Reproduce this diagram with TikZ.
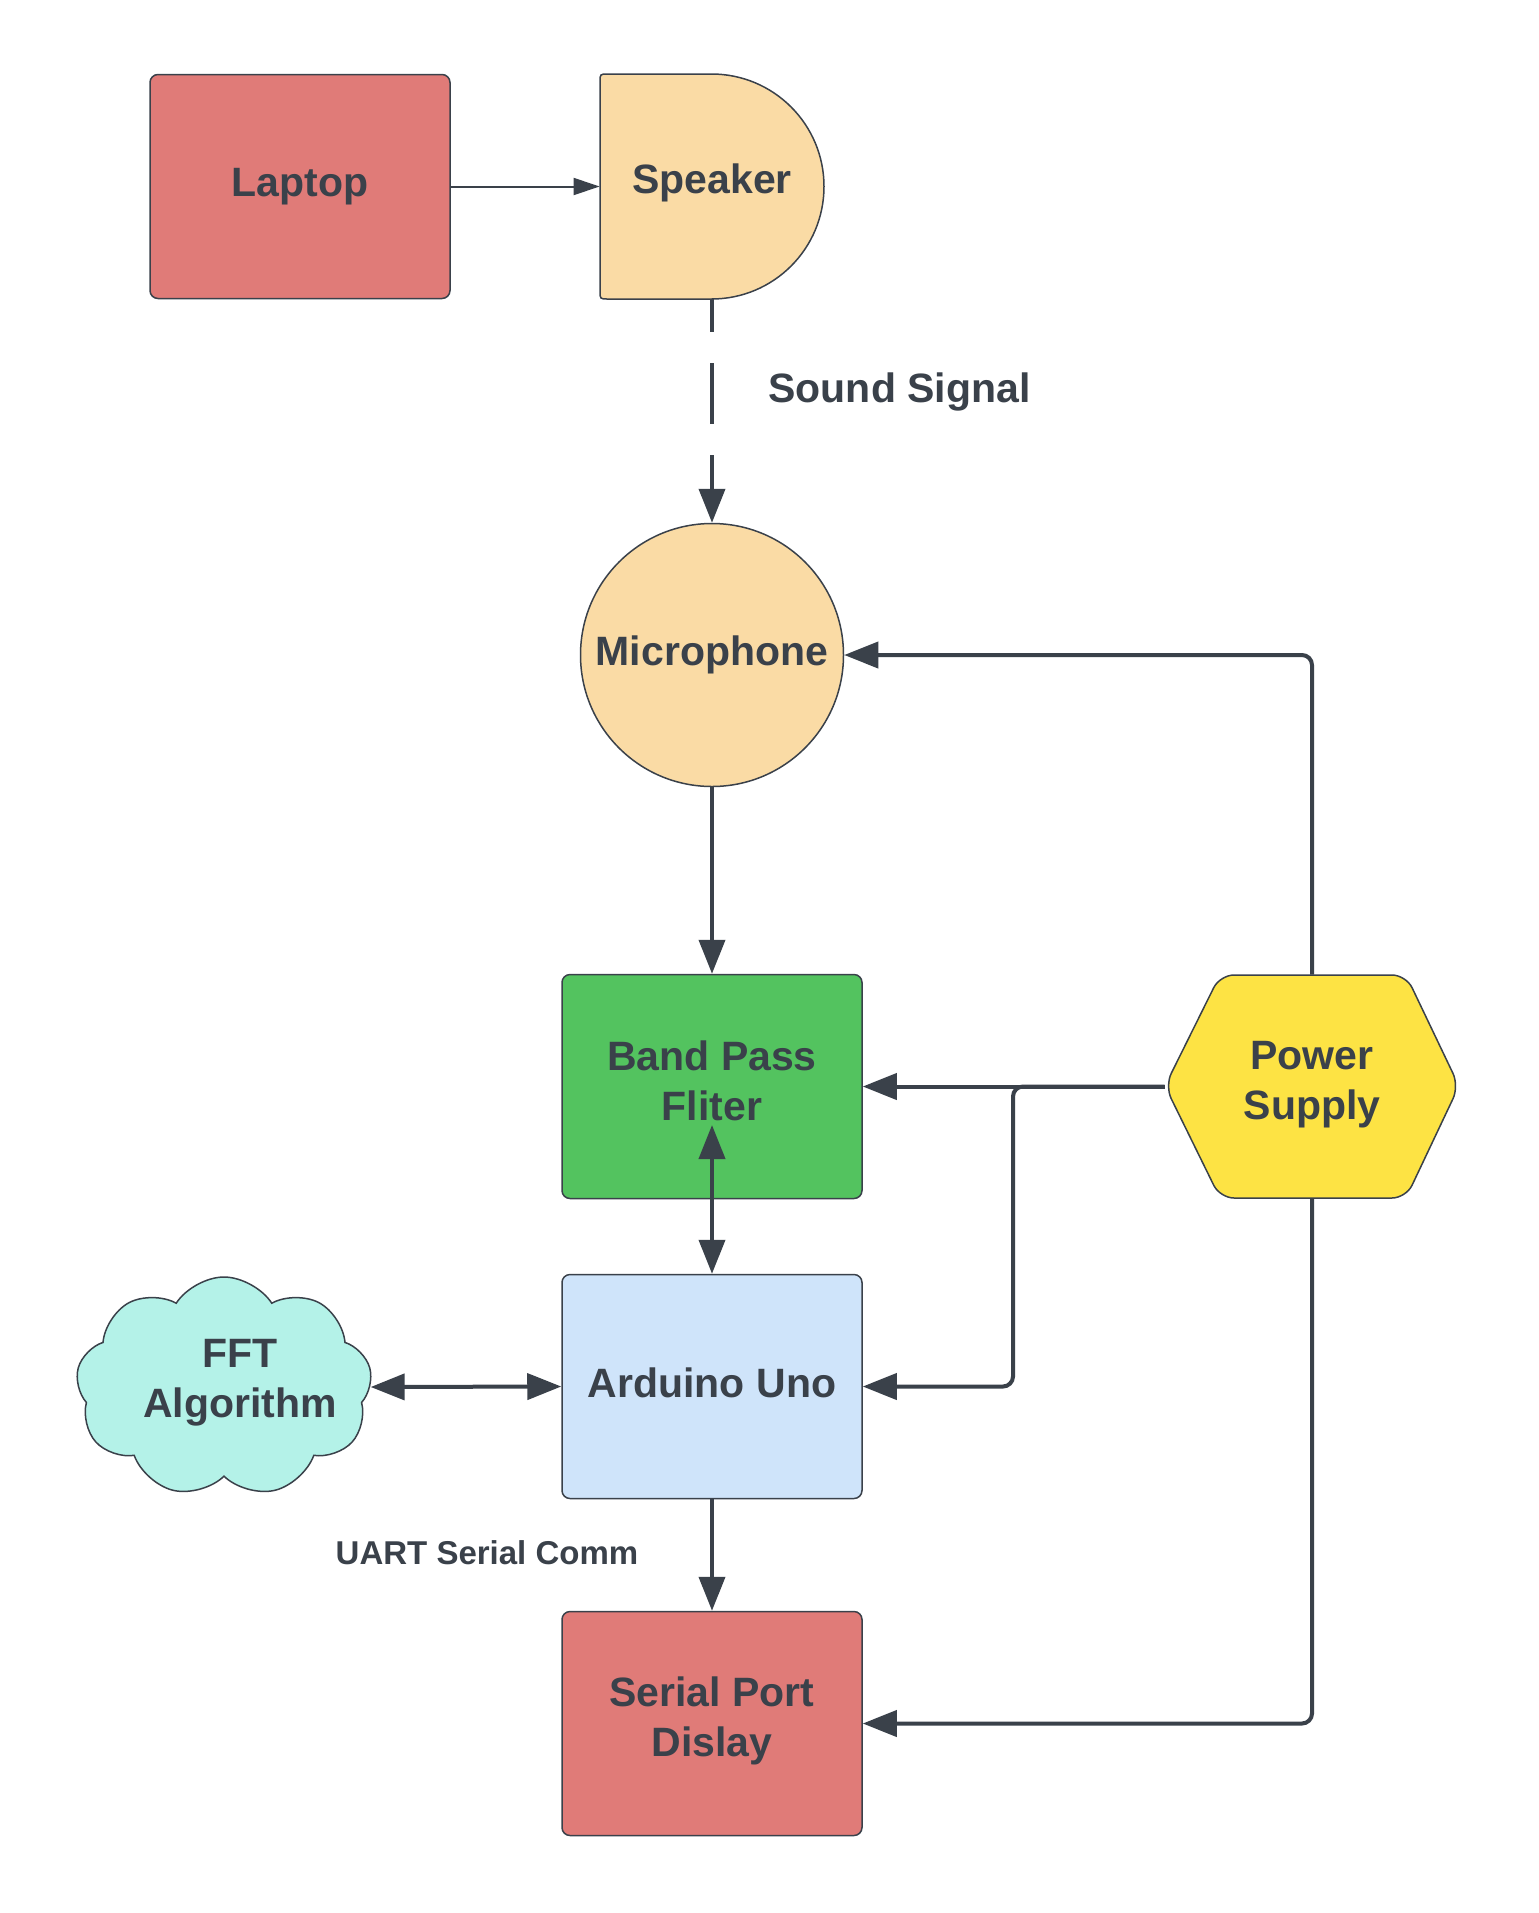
\documentclass[tikz,border=0pt]{standalone}
\usepackage{fontspec}
\setmainfont{Liberation Sans}
\usetikzlibrary{arrows.meta,shapes.symbols,shapes.geometric}
\definecolor{edge}{HTML}{3A414A}
\definecolor{txt}{HTML}{3A414A}
\definecolor{cred}{HTML}{E07B78}
\definecolor{corange}{HTML}{FADBA5}
\definecolor{cgreen}{HTML}{53C35F}
\definecolor{cblue}{HTML}{CFE4FA}
\definecolor{cyellow}{HTML}{FDE344}
\definecolor{cteal}{HTML}{B4F2E8}
\newcommand\lblfont{\bfseries\fontsize{20.5}{25}\selectfont}
\newcommand\smfont{\bfseries\fontsize{16.5}{20}\selectfont}
\newcommand\dpt[1]{\rule[-#1]{0pt}{0pt}}
\tikzset{
  box/.style={draw=edge, line width=0.75pt, rounded corners=4pt, minimum width=150pt, minimum height=112pt, text=txt, font=\lblfont, align=center, inner sep=0pt},
  plain/.style={text=txt, font=\lblfont, align=center, inner sep=0pt},
  shapeline/.style={draw=edge, line width=0.75pt},
  conn/.style={draw=edge, line width=2pt, -{Triangle[length=17pt,width=13pt]}},
  bconn/.style={draw=edge, line width=2pt, {Triangle[length=17pt,width=13pt]}-{Triangle[length=17pt,width=13pt]}},
  thinconn/.style={draw=edge, line width=1pt, -{Triangle[length=13pt,width=8.5pt]}},
}
\begin{document}
\begin{tikzpicture}[x=0.5pt,y=-0.5pt]
\useasboundingbox[fill=white] (0,0) rectangle (1538,1913);
% shapes drawn directly
\path[shapeline, fill=corange]
  (711.5,74) -- (608,74) .. controls (600,74) .. (600,82) -- (600,291)
  .. controls (600,299) .. (608,299) -- (711.5,299)
  arc[start angle=90, end angle=-90, radius=112.5] -- cycle;
\path[shapeline, fill=cyellow, rounded corners=7pt]
  (1165,1086) -- (1220,975) -- (1406,975) -- (1459,1086) -- (1406,1198) -- (1220,1198) -- cycle;
% nodes
\node[box, fill=cred] (laptop) at (300,186.5) {Laptop};
\node[plain, minimum width=112pt, minimum height=112.5pt] (speaker) at (712,186.5) {Speaker\dpt{8pt}};
\node[circle, draw=edge, line width=0.75pt, fill=corange, minimum size=131.5pt, inner sep=0pt, text=txt, font=\lblfont] (mic) at (712,655) {Microphone};
\node[box, fill=cgreen] (band) at (712,1086.5) {Band Pass\\Fliter\dpt{6pt}};
\node[box, fill=cblue] (arduino) at (712,1386.5) {Arduino Uno\dpt{3.5pt}};
\node[box, fill=cred] (serial) at (712,1723.5) {Serial Port\\Dislay\dpt{7pt}};
\node[plain, minimum width=147pt, minimum height=111.5pt] (power) at (1312,1086.5) {Power\\Supply\dpt{6pt}};
\node[cloud, cloud puffs=9, cloud puff arc=115, aspect=1.4, draw=edge, line width=0.75pt, fill=cteal, minimum width=148pt, minimum height=110pt, inner sep=0pt] (fft) at (224,1387) {};
\node[plain] (fftlbl) at (240,1383) {FFT\\Algorithm};
\node[plain] (sound) at (899.5,392) {Sound Signal};
\node[text=txt, font=\smfont, inner sep=0pt] (uart) at (487,1553) {UART Serial Comm};
\coordinate (bpin) at (712,1125);
\coordinate (branch) at (1013,1086.5);
% connectors
\draw[thinconn] (laptop.east) -- (speaker.west);
\draw[conn, dash pattern=on 30.5pt off 15.5pt, dash phase=14pt] (speaker.south) -- (mic.north);
\draw[conn] (mic.south) -- (band.north);
\draw[bconn] (arduino.north) -- (bpin);
\draw[bconn] (fft.east) -- (arduino.west);
\draw[conn] (arduino.south) -- (serial.north);
\draw[conn, rounded corners=5pt] (power.north) |- (mic.east);
\draw[conn] (power.west) -- (band.east);
\draw[conn, rounded corners=5pt] (power.west) -- (branch) |- (arduino.east);
\draw[conn, rounded corners=5pt] (power.south) |- (serial.east);
\end{tikzpicture}
\end{document}
